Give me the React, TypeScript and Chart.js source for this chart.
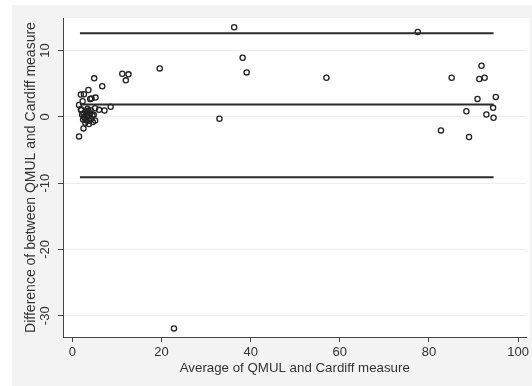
import React, { useEffect, useRef } from "react";
import { Chart, registerables } from "chart.js";

Chart.register(...registerables);

// Bland-Altman data: average (x) and difference (y)
const avgValues = [
  36.3, 77.5, 38.2, 39.1, 57.0, 33.0, 19.6, 11.2, 12.6, 12.0, 22.8,
  91.8, 85.1, 91.3, 92.5, 90.9, 95.0, 94.4, 88.4, 92.9, 94.5, 82.7, 89.0,
  4.9, 6.7, 3.6, 1.9, 2.6, 4.0, 5.2, 4.3, 2.3, 1.5, 1.9, 5.1, 6.0, 7.2, 8.6, 5.1, 3.7, 2.5, 1.5,
  2.0, 2.5, 3.0, 3.3, 2.8, 3.5, 4.0, 4.2, 2.6, 3.1, 3.8, 4.5, 2.2, 3.4, 4.6, 2.9, 3.6, 4.1, 2.4, 3.2, 4.8,
];
const diffValues = [
  13.5, 12.8, 8.9, 6.7, 5.9, -0.3, 7.3, 6.5, 6.4, 5.5, -31.9,
  7.7, 5.9, 5.7, 5.9, 2.7, 3.0, 1.35, 0.85, 0.35, -0.15, -2.05, -3.05,
  5.8, 4.6, 4.05, 3.35, 3.4, 2.7, 2.9, 2.75, 2.35, 1.8, 1.15, 1.3, 1.05, 0.95, 1.5, -0.55, -1.1, -1.75, -2.95,
  1.0, 0.5, 0.8, 0.2, -0.2, 0.0, 0.5, -0.3, 0.0, -0.5, -0.6, 0.2, 0.3, 1.2, -0.8, -0.9, 0.9, 1.0, -0.4, 0.5, 0.3,
];

// Mean difference and limits of agreement
const meanDiff = 1.85;
const upperLimit = 12.6;
const lowerLimit = -9.1;
const lineRange = [1.7, 94.5];

const xTickValues = [0, 20, 40, 60, 80, 100];
const yTickValues = [-30, -20, -10, 0, 10];

const xTitle = "Average of QMUL and Cardiff measure";
const yTitle = "Difference of between QMUL and Cardiff measure";

const FONT = "'Liberation Sans', Arial, sans-serif";
const TEXT = "#333333";

export default function App() {
  const ref = useRef<HTMLCanvasElement | null>(null);

  useEffect(() => {
    const canvas = ref.current;
    if (!canvas) return;

    const hline = (v: number) => [
      { x: lineRange[0], y: v },
      { x: lineRange[1], y: v },
    ];

    const bgPlugin = {
      id: "bgPlugin",
      beforeDraw(chart: any) {
        const { ctx, chartArea } = chart;
        ctx.save();
        ctx.fillStyle = "#ffffff";
        ctx.fillRect(0, 0, chart.width, chart.height);
        ctx.fillStyle = "#f3f3f3";
        ctx.fillRect(12, 5, chart.width - 12, chart.height - 5);
        ctx.fillStyle = "#ffffff";
        ctx.fillRect(chartArea.left, chartArea.top, chartArea.right - chartArea.left + 3, chartArea.bottom - chartArea.top);
        ctx.restore();
      },
      afterDraw(chart: any) {
        const { ctx } = chart;
        const y = chart.scales.y;
        ctx.save();
        ctx.fillStyle = TEXT;
        ctx.font = `13px ${FONT}`;
        ctx.textAlign = "center";
        ctx.textBaseline = "bottom";
        for (const v of yTickValues) {
          const py = y.getPixelForValue(v);
          ctx.save();
          ctx.translate(52, py);
          ctx.rotate(-Math.PI / 2);
          ctx.fillText(String(v), 0, 0);
          ctx.restore();
        }
        ctx.restore();
      },
    };

    const chart = new Chart(canvas, {
      type: "scatter",
      data: {
        datasets: [
          {
            type: "line",
            data: hline(upperLimit),
            borderColor: "#2a2a2a",
            borderWidth: 2,
            pointRadius: 0,
          } as any,
          {
            type: "line",
            data: hline(meanDiff),
            borderColor: "#2a2a2a",
            borderWidth: 2,
            pointRadius: 0,
          } as any,
          {
            type: "line",
            data: hline(lowerLimit),
            borderColor: "#2a2a2a",
            borderWidth: 2,
            pointRadius: 0,
          } as any,
          {
            data: avgValues.map((x, i) => ({ x, y: diffValues[i] })),
            pointRadius: 2.6,
            pointBorderWidth: 1.3,
            borderColor: "#222222",
            backgroundColor: "rgba(0,0,0,0)",
            pointBackgroundColor: "rgba(0,0,0,0)",
          },
        ],
      },
      options: {
        animation: false,
        responsive: false,
        layout: { padding: { top: 18, right: 5, left: 0, bottom: 0 } },
        plugins: { legend: { display: false }, tooltip: { enabled: false } },
        scales: {
          x: {
            type: "linear",
            min: -2.1,
            max: 101.9,
            afterBuildTicks: (s: any) => {
              s.ticks = xTickValues.map((v) => ({ value: v }));
            },
            afterFit: (s: any) => {
              s.height = 49;
            },
            grid: { display: true, drawOnChartArea: false, drawTicks: true, tickLength: 5, tickColor: "#444", color: "#444" },
            border: { display: true, color: "#444", width: 1 },
            ticks: { color: TEXT, font: { family: FONT, size: 13 }, padding: 3, maxRotation: 0, autoSkip: false },
            title: { display: true, text: xTitle, color: TEXT, font: { family: FONT, size: 13.3 }, padding: { top: 0, bottom: 10 } },
          },
          y: {
            type: "linear",
            min: -33.2,
            max: 14.9,
            afterBuildTicks: (s: any) => {
              s.ticks = yTickValues.map((v) => ({ value: v }));
            },
            afterFit: (s: any) => {
              s.width = 63;
            },
            grid: { display: true, color: "#ececec", lineWidth: 1, drawTicks: true, tickLength: 5, tickColor: "#444" },
            border: { display: true, color: "#444", width: 1 },
            ticks: { display: false },
            title: { display: true, text: yTitle, color: TEXT, font: { family: FONT, size: 14 }, padding: { top: 23, bottom: 0 } },
          },
        },
      },
      plugins: [bgPlugin],
    } as any);

    return () => chart.destroy();
  }, []);

  return (
    <div style={{ position: "fixed", left: 0, top: 0, width: 532, height: 386 }}>
      <canvas ref={ref} width={532} height={386} style={{ width: 532, height: 386, display: "block" }} />
    </div>
  );
}
